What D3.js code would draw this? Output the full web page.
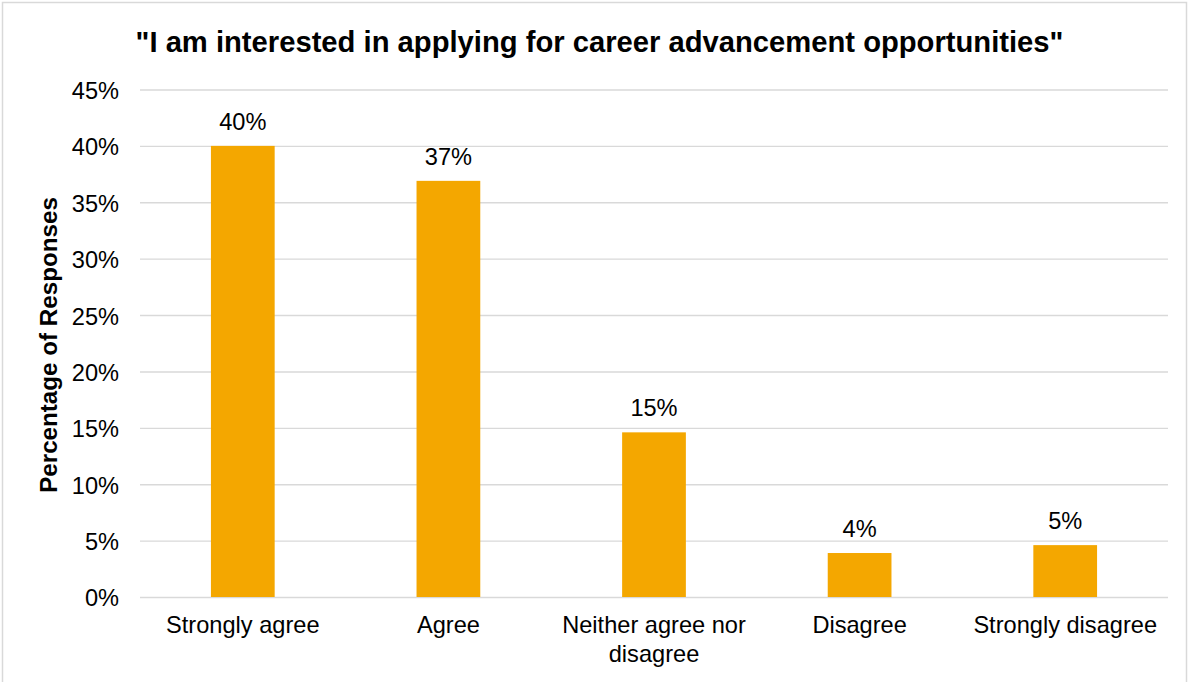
<!DOCTYPE html>
<html>
<head>
<meta charset="utf-8">
<script src="https://cdn.jsdelivr.net/npm/d3@7"></script>
<style>
  body { margin: 0; background: #fff; }
  text { font-family: "Liberation Sans", Arial, sans-serif; fill: #000; }
</style>
</head>
<body>
<script>
'use strict';
// survey answers and the share of responses
const categories = ['Strongly agree', 'Agree', 'Neither agree nor disagree', 'Disagree', 'Strongly disagree'];
const values = [0.400, 0.369, 0.146, 0.039, 0.046];
const yTicks = [0, 0.05, 0.10, 0.15, 0.20, 0.25, 0.30, 0.35, 0.40, 0.45];
const chartTitle = '"I am interested in applying for career advancement opportunities"';
const yTitle = 'Percentage of Responses';

(function () {
  const width = 1197,
      height = 682;
  const plot = {left: 140, right: 1168, top: 89.5, bottom: 597};
  const fs = 23.6;

  const svg = d3.select('body').append('svg')
    .attr('width', width)
    .attr('height', height);

  // outer frame of the chart
  svg.append('rect')
    .attr('x', 2.5)
    .attr('y', 2.5)
    .attr('width', 1184)
    .attr('height', 700)
    .attr('fill', '#fff')
    .attr('stroke', '#d9d9d9')
    .attr('stroke-width', 1.5);

  let x = d3.scaleBand()
    .domain(categories)
    .range([plot.left, plot.right])
    .paddingInner(0.69)
    .paddingOuter(0.345);

  let y = d3.scaleLinear()
    .domain([0, 0.45])
    .range([plot.bottom, plot.top]);

  let pct = d3.format('.0%');

  // gridlines + y labels
  let yAxis = d3.axisLeft(y)
    .tickValues(yTicks)
    .tickFormat(pct)
    .tickSize(-(plot.right - plot.left))
    .tickPadding(21);

  let gy = svg.append('g')
    .attr('transform', 'translate(' + plot.left + ',0)')
    .call(yAxis);
  gy.select('.domain').remove();
  gy.selectAll('line')
    .attr('stroke', '#d9d9d9')
    .attr('stroke-width', 1.4);
  gy.selectAll('text')
    .attr('font-size', fs)
    .attr('font-family', '"Liberation Sans", Arial, sans-serif')
    .attr('fill', '#000')
    .attr('dy', '0.38em');

  // bars
  svg.selectAll('.bar')
    .data(values)
    .enter()
    .append('rect')
    .attr('class', 'bar')
    .attr('x', (d, i) => x(categories[i]))
    .attr('width', x.bandwidth())
    .attr('y', (d) => y(d))
    .attr('height', (d) => y(0) - y(d))
    .attr('fill', '#f4a700');

  // value labels above bars
  svg.selectAll('.val')
    .data(values)
    .enter()
    .append('text')
    .attr('class', 'val')
    .attr('x', (d, i) => x(categories[i]) + x.bandwidth() / 2)
    .attr('y', (d) => y(d) - 16)
    .attr('text-anchor', 'middle')
    .attr('font-size', fs)
    .text((d) => pct(d));

  // x labels, wrapped when wider than the category step
  let gx = svg.append('g')
    .attr('transform', 'translate(0,' + plot.bottom + ')')
    .call(d3.axisBottom(x).tickSize(0).tickPadding(0));
  gx.select('.domain').remove();
  gx.selectAll('text')
    .attr('font-size', fs)
    .attr('font-family', '"Liberation Sans", Arial, sans-serif')
    .attr('fill', '#000')
    .attr('y', 36)
    .attr('dy', 0)
    .call(wrap, x.step() - 4);

  function wrap(texts, maxWidth) {
    texts.each(function () {
      let text = d3.select(this);
      let words = text.text().split(/\s+/);
      let line = [];
      let lineNo = 0;
      let yPos = text.attr('y');
      text.text(null);
      let tspan = text.append('tspan').attr('x', 0).attr('y', yPos);
      words.forEach(function (w) {
        line.push(w);
        tspan.text(line.join(' '));
        if (tspan.node().getComputedTextLength() > maxWidth && line.length > 1) {
          line.pop();
          tspan.text(line.join(' '));
          line = [w];
          lineNo++;
          tspan = text.append('tspan')
            .attr('x', 0)
            .attr('y', +yPos + lineNo * 29)
            .text(w);
        }
      });
    });
  }

  // title
  svg.append('text')
    .attr('x', 599.5)
    .attr('y', 52)
    .attr('text-anchor', 'middle')
    .attr('font-size', 29.2)
    .attr('font-weight', 'bold')
    .text(chartTitle);

  // y axis title
  svg.append('text')
    .attr('transform', 'translate(57,345) rotate(-90)')
    .attr('text-anchor', 'middle')
    .attr('font-size', 24.2)
    .attr('font-weight', 'bold')
    .text(yTitle);
})();
</script>
</body>
</html>
